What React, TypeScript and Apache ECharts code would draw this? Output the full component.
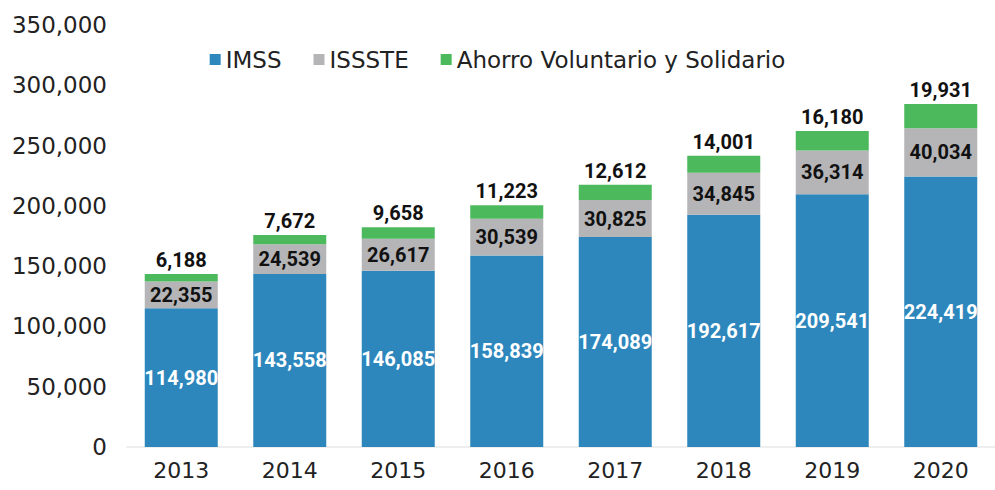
import React, { useEffect, useRef } from "react";
import * as echarts from "echarts";

const years = ["2013", "2014", "2015", "2016", "2017", "2018", "2019", "2020"];
const imss = [114980, 143558, 146085, 158839, 174089, 192617, 209541, 224419];
const issste = [22355, 24539, 26617, 30539, 30825, 34845, 36314, 40034];
const ahorro = [6188, 7672, 9658, 11223, 12612, 14001, 16180, 19931];

const fmt = (v: number) => v.toLocaleString("en-US");

export default function App() {
  const ref = useRef<HTMLDivElement>(null);
  useEffect(() => {
    if (!ref.current) return;
    const chart = echarts.init(ref.current, undefined, { renderer: "svg" });
    const labelFont = "Roboto, 'DejaVu Sans', sans-serif";
    chart.setOption({
      animation: false,
      backgroundColor: "#ffffff",
      textStyle: { fontFamily: "'DejaVu Sans', sans-serif" },
      legend: {
        top: 43,
        left: "center",
        itemWidth: 11,
        itemHeight: 11,
        itemGap: 32,
        icon: "rect",
        textStyle: { fontSize: 23, color: "#222", fontFamily: "'DejaVu Sans', sans-serif" },
        data: ["IMSS", "ISSSTE", "Ahorro Voluntario y Solidario"],
      },
      grid: { left: 127, right: -18, top: 25, bottom: 43, containLabel: false },
      xAxis: {
        type: "category",
        data: years,
        axisLine: { show: true, lineStyle: { color: "#eeeeee", width: 2 } },
        axisTick: { show: false },
        axisLabel: { fontSize: 22, color: "#222", margin: 12, fontFamily: "'DejaVu Sans', sans-serif" },
      },
      yAxis: {
        type: "value",
        min: 0,
        max: 350000,
        interval: 50000,
        splitLine: { show: false },
        axisLine: { show: false },
        axisTick: { show: false },
        axisLabel: {
          fontSize: 23,
          color: "#222",
          margin: 20,
          fontFamily: "'DejaVu Sans', sans-serif",
          formatter: (v: number) => fmt(v),
        },
      },
      series: [
        {
          name: "IMSS",
          type: "bar",
          stack: "total",
          data: imss,
          barWidth: 73,
          itemStyle: { color: "#2d87bd" },
          label: {
            show: true,
            position: "inside",
            color: "#ffffff",
            fontWeight: "bold",
            fontSize: 20,
            fontFamily: labelFont,
            formatter: (p: any) => fmt(p.value),
          },
        },
        {
          name: "ISSSTE",
          type: "bar",
          stack: "total",
          data: issste,
          itemStyle: { color: "#b5b5b8" },
          label: {
            show: true,
            position: "inside",
            color: "#111",
            fontWeight: "bold",
            fontSize: 20,
            fontFamily: labelFont,
            formatter: (p: any) => fmt(p.value),
          },
        },
        {
          name: "Ahorro Voluntario y Solidario",
          type: "bar",
          stack: "total",
          data: ahorro,
          itemStyle: { color: "#4cb95c" },
          label: {
            show: true,
            position: "top",
            distance: 4,
            color: "#111",
            fontWeight: "bold",
            fontSize: 20,
            fontFamily: labelFont,
            formatter: (p: any) => fmt(p.value),
          },
        },
      ],
    });
    return () => chart.dispose();
  }, []);
  return <div ref={ref} style={{ width: 995, height: 490, position: "absolute", left: 0, top: 0 }} />;
}
